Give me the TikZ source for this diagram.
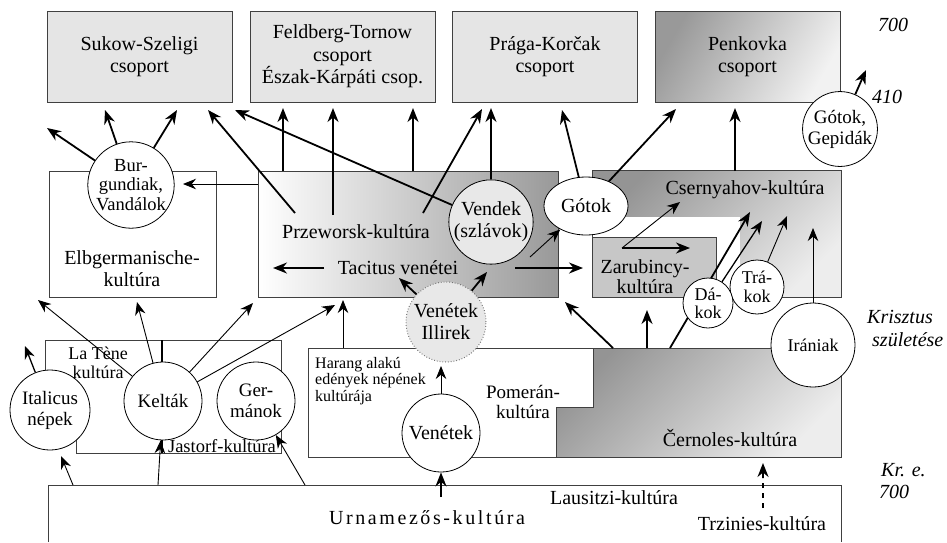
\documentclass[tikz,border=0pt]{standalone}
\usepackage{fontspec}
\setmainfont{Liberation Serif}
\usetikzlibrary{arrows.meta,shapes.geometric}
\begin{document}
\begin{tikzpicture}[x=1pt,y=-1pt,
  every node/.style={font=\fontsize{20}{22}\selectfont, inner sep=0pt},
  box/.style={draw=black!75, line width=0.8pt},
  topbox/.style={box, minimum width=185pt, minimum height=91pt, align=center, font=\fontsize{20}{22.5}\selectfont},
  circ/.style={circle, draw=black, line width=0.8pt, fill=white, inner sep=0pt, align=center, font=\fontsize{19}{21}\selectfont},
  tarr/.style={line width=1.8pt, -{Stealth[length=14pt,width=11pt]}},
  marr/.style={line width=1.3pt, -{Stealth[length=13pt,width=10.5pt]}},
  narr/.style={line width=0.9pt, -{Stealth[length=13pt,width=10.5pt]}},
  lbl/.style={align=center},
  ital/.style={font=\fontsize{20}{23}\selectfont\itshape, anchor=west},
]
\useasboundingbox (0,0) rectangle (947,542);

% ---------- top boxes ----------
\node[topbox, fill=black!10] (sukow) at (139.5,56.5) {Sukow-Szeligi\\csoport};
\node[topbox, fill=black!10] (feld) at (342.5,56.5) {Feldberg-Tornow\\csoport\\Észak-Kárpáti csop.};
\node[topbox, fill=black!10] (praga) at (545,56.5) {Prága-Korčak\\csoport};
\node[topbox, top color=black!40, bottom color=black!5, shading angle=60] (penk) at (747.5,56.5) {Penkovka\\csoport};

% ---------- middle boxes ----------
\node[box, fill=white, minimum width=167pt, minimum height=126pt] (elb) at (132.5,234) {};
\node[box, left color=white, right color=black!40, minimum width=300pt, minimum height=126pt] (prz) at (408,234) {};
\node[box, top color=black!42, bottom color=black!7, shading angle=45, minimum width=249pt, minimum height=127pt] (cser) at (716.5,233.5) {};
\fill[white] (592.5,217) rectangle (740,296.5);
\node[box, fill=black!22, minimum width=124pt, minimum height=60pt] (zar) at (654,267) {};

% ---------- lower boxes ----------
\draw[box, fill=white] (45,340) -- (281,340) -- (281,453) -- (76,453) -- (76,410) -- (45,410) -- cycle;
\draw[line width=1.5pt] (162,340) -- (162,453);
\shadedraw[draw=black!75, line width=0.8pt, top color=black!42, bottom color=black!7, shading angle=45]
  (593,348) -- (841,348) -- (841,457) -- (556,457) -- (556,407) -- (593,407) -- cycle;
\draw[box, fill=white] (308,348) -- (593,348) -- (593,407) -- (556,407) -- (556,457) -- (308,457) -- cycle;
\draw[box] (48,542) -- (48,485) -- (841,485) -- (841,542);

% ---------- texts in boxes ----------
\node[lbl] (elbt) at (132,269) {Elbgermanische-\\kultúra};
\node (przt) at (356,232) {Przeworsk-kultúra};
\node (tac) at (398,268) {Tacitus venétei};
\node (csert) at (745,190) {Csernyahov-kultúra};
\node[lbl, font=\fontsize{20}{20}\selectfont] (zart) at (645,277) {Zarubincy-\\kultúra};
\node[lbl, font=\fontsize{18}{19.5}\selectfont] (late) at (98,363) {La Tène\\kultúra};
\node[font=\fontsize{18.5}{20}\selectfont] (jast) at (222,446) {Jastorf-kultúra};
\node[align=left, anchor=west, font=\fontsize{16}{16.5}\selectfont] (harang) at (315,381) {Harang alakú\\edények népének\\kultúrája};
\node[lbl, font=\fontsize{19}{20}\selectfont] (pomt) at (523,402) {Pomerán-\\kultúra};
\node (cernt) at (730,438) {Černoles-kultúra};
\node (laus) at (614,498) {Lausitzi-kultúra};
\node[font=\fontsize{20}{22}\selectfont\addfontfeature{LetterSpace=13}] (urna) at (427,518) {Urnamezős-kultúra};
\node (trz) at (762,524) {Trzinies-kultúra};

% ---------- right labels ----------
\node[ital] (y700) at (878,25) {700};
\node[ital] (y410) at (872,97) {410};
\node[ital] (kr1) at (867,317) {Krisztus};
\node[ital] (kr2) at (872,340) {születése};
\node[ital] (kre) at (881,470) {Kr. e.};
\node[ital] (kre7) at (879,492) {700};

% ---------- arrow behind Dakok ----------
\coordinate (a34s) at (670,348);
\coordinate (a34t) at (750,212);
\draw[tarr] (a34s) -- (a34t);

% ---------- circles ----------
\node[circ, minimum size=80pt, font=\fontsize{18.5}{19.5}\selectfont] (burg) at (131,185) {Bur-\\gundiak,\\Vandálok};
\node[circ, minimum size=80pt, fill=black!9, font=\fontsize{20}{22}\selectfont] (vendek) at (491,222) {Vendek\\(szlávok)};
\node[ellipse, draw=black, line width=0.8pt, fill=white, minimum width=84pt, minimum height=58pt] (gotok) at (586,206) {Gótok};
\node[circ, minimum size=80pt, fill=black!9, draw=black!55, dotted, line width=1pt, font=\fontsize{20}{22}\selectfont] (venill) at (446,322) {Venétek\\Illirek};
\node[circ, minimum size=54pt, font=\fontsize{18}{19}\selectfont] (trak) at (757,287) {Trá-\\kok};
\node[circ, minimum size=50pt, font=\fontsize{18}{18}\selectfont] (dak) at (708,303) {Dá-\\kok};
\node[circ, minimum size=84pt, font=\fontsize{18}{20}\selectfont] (iran) at (813,345) {Irániak};
\node[circ, minimum size=74pt] (gotgep) at (840,129) {Gótok,\\Gepidák};
\node[circ, minimum size=80pt] (ital) at (50,410) {Italicus\\népek};
\node[circ, minimum size=78pt] (kelt) at (163,401) {Kelták};
\node[circ, minimum size=78pt] (germ) at (256,401) {Ger-\\mánok};
\node[circ, minimum size=78pt, font=\fontsize{20}{22}\selectfont] (venetek) at (441,433) {Venétek};

% ---------- arrows from Burgundiak ----------
\coordinate (b1) at (47,128);
\coordinate (b2) at (105,110);
\coordinate (b3) at (177,110);
\draw[tarr] (burg) -- (b1);
\draw[tarr] (burg) -- (b2);
\draw[tarr] (burg) -- (b3);
\coordinate (a4s) at (258,184);
\coordinate (a4t) at (183,184);
\draw[narr] (a4s) -- (a4t);

% ---------- arrows from Przeworsk / Vendek ----------
\coordinate (a5s) at (295,213);  \coordinate (a5t) at (208,110);
\coordinate (a6t) at (235,110);
\coordinate (a7s) at (283,171);  \coordinate (a7t) at (283,108);
\coordinate (a8s) at (333,215);  \coordinate (a8t) at (333,108);
\coordinate (a9s) at (413,171);  \coordinate (a9t) at (413,108);
\coordinate (a10s) at (423,213); \coordinate (a10t) at (482,109);
\coordinate (a11t) at (491,108);
\draw[tarr] (a5s) -- (a5t);
\draw[tarr] (vendek) -- (a6t);
\draw[tarr] (a7s) -- (a7t);
\draw[tarr] (a8s) -- (a8t);
\draw[tarr] (a9s) -- (a9t);
\draw[tarr] (a10s) -- (a10t);
\draw[tarr] (vendek) -- (a11t);

% ---------- arrows from Gotok / Csernyahov ----------
\coordinate (a12t) at (562,110);
\coordinate (a13t) at (676,109);
\coordinate (a14s) at (735,171); \coordinate (a14t) at (735,108);
\draw[tarr] (gotok) -- (a12t);
\draw[tarr] (gotok) -- (a13t);
\draw[tarr] (a14s) -- (a14t);
\coordinate (gg) at (866,70);
\draw[tarr] (gotgep) -- (gg);

% ---------- Tacitus arrows ----------
\coordinate (a15s) at (324,268); \coordinate (a15t) at (273,268);
\coordinate (a16s) at (515,268); \coordinate (a16t) at (583,268);
\coordinate (a17s) at (530,257);
\draw[tarr] (a15s) -- (a15t);
\draw[tarr] (a16s) -- (a16t);
\draw[narr] (a17s) -- (gotok);

% ---------- Venetek Illirek ----------
\coordinate (a18t) at (399,278);
\coordinate (a19t) at (487,272);
\draw[tarr] (venill) -- (a18t);
\draw[tarr] (venill) -- (a19t);
\coordinate (a20s) at (343,348); \coordinate (a20t) at (343,300);
\draw[narr] (a20s) -- (a20t);
\coordinate (a21t) at (441,366);
\draw[narr] (venetek.north) -- (a21t);
\coordinate (a22s) at (441,497);
\draw[tarr] (a22s) -- (venetek.south);

% ---------- Keltak ----------
\coordinate (k1) at (38,300);
\coordinate (k2) at (137,302);
\coordinate (k3) at (253,303);
\coordinate (k4) at (335,305);
\draw[narr] (kelt) -- (k1);
\draw[narr] (kelt) -- (k2);
\draw[narr] (kelt) -- (k3);
\draw[narr] (kelt) -- (k4);
\coordinate (it1) at (25,346);
\draw[marr] (ital) -- (it1);

% ---------- from Lausitzi ----------
\coordinate (l1s) at (73,485); \coordinate (l1t) at (61,456);
\coordinate (l2s) at (158,485);
\coordinate (l3s) at (305,485);
\draw[narr] (l1s) -- (l1t);
\draw[narr] (l2s) -- (kelt);
\draw[narr] (l3s) -- (germ);
\coordinate (trs) at (763,508); \coordinate (trt) at (763,463);
\draw[line width=1.8pt, dash pattern=on 5pt off 5pt] (trs) -- (763,478);
\draw[tarr] (763,478) -- (trt);

% ---------- from Cernoles ----------
\coordinate (c1s) at (613,348); \coordinate (c1t) at (565,302);
\coordinate (c2s) at (647,348); \coordinate (c2t) at (647,310);
\draw[tarr] (c1s) -- (c1t);
\draw[tarr] (c2s) -- (c2t);
\coordinate (dkt) at (762,221);
\draw[marr] (dak) -- (dkt);
\coordinate (trkt) at (787,216);
\draw[narr] (trak) -- (trkt);
\coordinate (irt) at (813,228);
\draw[narr] (iran) -- (irt);

% ---------- Zarubincy ----------
\coordinate (zs) at (622,248);
\coordinate (zt1) at (690,248);
\coordinate (zt2) at (680,202);
\draw[tarr] (zs) -- (zt1);
\draw[narr] (zs) -- (zt2);
\end{tikzpicture}
\end{document}
